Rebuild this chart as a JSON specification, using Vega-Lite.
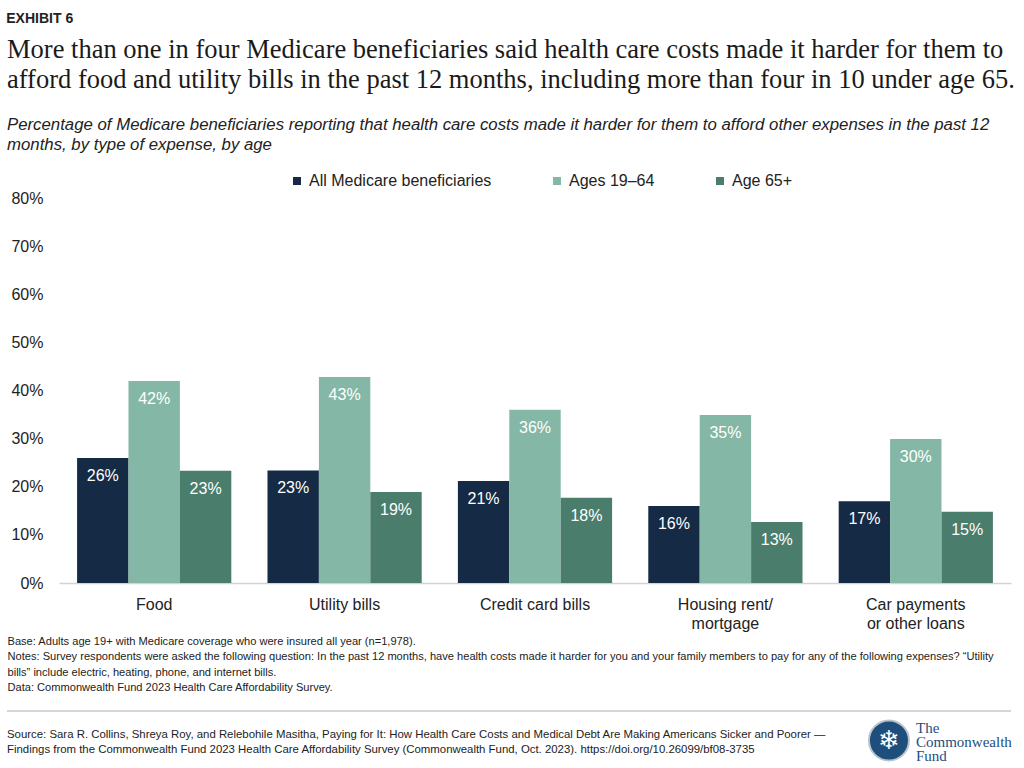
{
  "$schema": "https://vega.github.io/schema/vega-lite/v6.json",
  "padding": {"left": 6, "top": 12, "right": 4, "bottom": 0},
  "background": "white",
  "title": {"text": "EXHIBIT 6", "anchor": "start", "font": "Liberation Sans", "fontSize": 14, "fontWeight": "bold", "color": "#222222", "offset": 11},
  "columns": 1,
  "spacing": 17,
  "config": {"view": {"stroke": null}, "font": "Liberation Sans"},
  "concat": [
    {
      "width": 952,
      "height": 385,
      "title": {
        "text": [
          "More than one in four Medicare beneficiaries said health care costs made it harder for them to",
          "afford food and utility bills in the past 12 months, including more than four in 10 under age 65."
        ],
        "subtitle": [
          "Percentage of Medicare beneficiaries reporting that health care costs made it harder for them to afford other expenses in the past 12",
          "months, by type of expense, by age"
        ],
        "anchor": "start",
        "font": "Liberation Serif",
        "fontSize": 26.5,
        "fontWeight": "normal",
        "lineHeight": 30,
        "color": "#1a1a1a",
        "subtitleFont": "Liberation Sans",
        "subtitleFontSize": 16.8,
        "subtitleFontStyle": "italic",
        "subtitleColor": "#222222",
        "subtitleLineHeight": 20,
        "subtitlePadding": 23.5,
        "offset": 36
      },
      "data": {
        "values": [
          {"expense": "Food", "group": "All Medicare beneficiaries", "value": 0.26},
          {"expense": "Food", "group": "Ages 19–64", "value": 0.42},
          {"expense": "Food", "group": "Age 65+", "value": 0.233},
          {"expense": "Utility bills", "group": "All Medicare beneficiaries", "value": 0.234},
          {"expense": "Utility bills", "group": "Ages 19–64", "value": 0.428},
          {"expense": "Utility bills", "group": "Age 65+", "value": 0.189},
          {"expense": "Credit card bills", "group": "All Medicare beneficiaries", "value": 0.212},
          {"expense": "Credit card bills", "group": "Ages 19–64", "value": 0.36},
          {"expense": "Credit card bills", "group": "Age 65+", "value": 0.177},
          {"expense": "Housing rent/ mortgage", "group": "All Medicare beneficiaries", "value": 0.16},
          {"expense": "Housing rent/ mortgage", "group": "Ages 19–64", "value": 0.349},
          {"expense": "Housing rent/ mortgage", "group": "Age 65+", "value": 0.127},
          {"expense": "Car payments or other loans", "group": "All Medicare beneficiaries", "value": 0.17},
          {"expense": "Car payments or other loans", "group": "Ages 19–64", "value": 0.299},
          {"expense": "Car payments or other loans", "group": "Age 65+", "value": 0.148}
        ]
      },
      "encoding": {
        "x": {
          "field": "expense",
          "type": "nominal",
          "sort": ["Food", "Utility bills", "Credit card bills", "Housing rent/ mortgage", "Car payments or other loans"],
          "scale": {"paddingInner": 0.19, "paddingOuter": 0.095},
          "axis": {
            "title": [
              "Base: Adults age 19+ with Medicare coverage who were insured all year (n=1,978).",
              "Notes: Survey respondents were asked the following question: In the past 12 months, have health costs made it harder for you and your family members to pay for any of the following expenses? “Utility",
              "bills” include electric, heating, phone, and internet bills.",
              "Data: Commonwealth Fund 2023 Health Care Affordability Survey."
            ],
            "titleX": -52,
            "titleY": 52,
            "titleAlign": "left",
            "titleAnchor": "start",
            "titleBaseline": "top",
            "titleFont": "Liberation Sans",
            "titleFontSize": 11.1,
            "titleFontWeight": "normal",
            "titleColor": "#222222",
            "titleLineHeight": 15.6,
            "labelAngle": 0,
            "labelFontSize": 16,
            "labelColor": "#222222",
            "labelPadding": 13,
            "labelBaseline": "top",
            "labelLineHeight": 19.5,
            "labelExpr": "datum.label == 'Housing rent/ mortgage' ? ['Housing rent/', 'mortgage'] : datum.label == 'Car payments or other loans' ? ['Car payments', 'or other loans'] : datum.label",
            "ticks": false,
            "tickSize": 0,
            "domainColor": "#d3d3d3",
            "domainWidth": 1.5,
            "grid": false
          }
        },
        "xOffset": {
          "field": "group",
          "type": "nominal",
          "sort": ["All Medicare beneficiaries", "Ages 19–64", "Age 65+"],
          "scale": {"paddingInner": 0, "paddingOuter": 0}
        },
        "y": {
          "field": "value",
          "type": "quantitative",
          "scale": {"domain": [0, 0.8]},
          "axis": {
            "values": [0, 0.1, 0.2, 0.3, 0.4, 0.5, 0.6, 0.7, 0.8],
            "format": ".0%",
            "labelFontSize": 16,
            "labelColor": "#222222",
            "labelPadding": 16,
            "ticks": false,
            "tickSize": 0,
            "domain": false,
            "grid": false,
            "title": null
          }
        }
      },
      "layer": [
        {
          "mark": {"type": "bar"},
          "encoding": {
            "color": {
              "field": "group",
              "type": "nominal",
              "scale": {
                "domain": ["All Medicare beneficiaries", "Ages 19–64", "Age 65+"],
                "range": ["#152a44", "#84b7a5", "#4a7d6c"]
              },
              "legend": {
                "title": null,
                "orient": "none",
                "legendX": 230,
                "legendY": -25,
                "direction": "horizontal",
                "symbolType": "square",
                "symbolSize": 64,
                "symbolStrokeWidth": 0,
                "labelFontSize": 16,
                "labelColor": "#222222",
                "labelOffset": 4,
                "columnPadding": 57,
                "labelLimit": 400
              }
            }
          }
        },
        {
          "mark": {"type": "text", "baseline": "top", "dy": 10, "fontSize": 16, "color": "white"},
          "encoding": {"text": {"field": "value", "format": ".0%"}}
        }
      ]
    },
    {
      "width": 952,
      "height": 59,
      "layer": [
        {
          "data": {"values": [{"part": "divider"}]},
          "mark": {"type": "rule", "color": "#c8c8c8", "strokeWidth": 1.5},
          "encoding": {
            "x": {"datum": -0.0546, "type": "quantitative", "scale": {"domain": [0, 1]}, "axis": null},
            "x2": {"datum": 1},
            "y": {"datum": 1, "type": "quantitative", "scale": {"domain": [0, 1]}, "axis": null}
          }
        },
        {
          "data": {
            "values": [
              {"source": "Source: Sara R. Collins, Shreya Roy, and Relebohile Masitha, Paying for It: How Health Care Costs and Medical Debt Are Making Americans Sicker and Poorer —\nFindings from the Commonwealth Fund 2023 Health Care Affordability Survey (Commonwealth Fund, Oct. 2023). https://doi.org/10.26099/bf08-3735"}
            ]
          },
          "mark": {"type": "text", "align": "left", "baseline": "middle", "lineBreak": "\n", "lineHeight": 15, "dy": -6, "fontSize": 11.4, "color": "#222222"},
          "encoding": {
            "x": {"datum": -0.0546, "type": "quantitative"},
            "text": {"field": "source"}
          }
        },
        {
          "data": {"values": [{"org": "The Commonwealth Fund"}]},
          "mark": {"type": "point", "filled": true, "shape": "circle", "size": 1600, "color": "#1e4e7c", "stroke": "#b9c3cc", "strokeWidth": 2, "opacity": 1},
          "encoding": {"x": {"datum": 0.8718, "type": "quantitative"}}
        },
        {
          "data": {"values": [{"glyph": "❄"}]},
          "mark": {"type": "text", "align": "center", "baseline": "middle", "fontSize": 26, "color": "white", "font": "DejaVu Sans"},
          "encoding": {"x": {"datum": 0.8718, "type": "quantitative"}, "text": {"field": "glyph"}}
        },
        {
          "data": {"values": [{"org": "The\nCommonwealth\nFund"}]},
          "mark": {"type": "text", "align": "left", "baseline": "middle", "lineBreak": "\n", "dy": -13, "font": "Liberation Serif", "fontSize": 15, "lineHeight": 14, "color": "#1e4e7c"},
          "encoding": {"x": {"datum": 0.9002, "type": "quantitative"}, "text": {"field": "org"}}
        }
      ]
    }
  ]
}
